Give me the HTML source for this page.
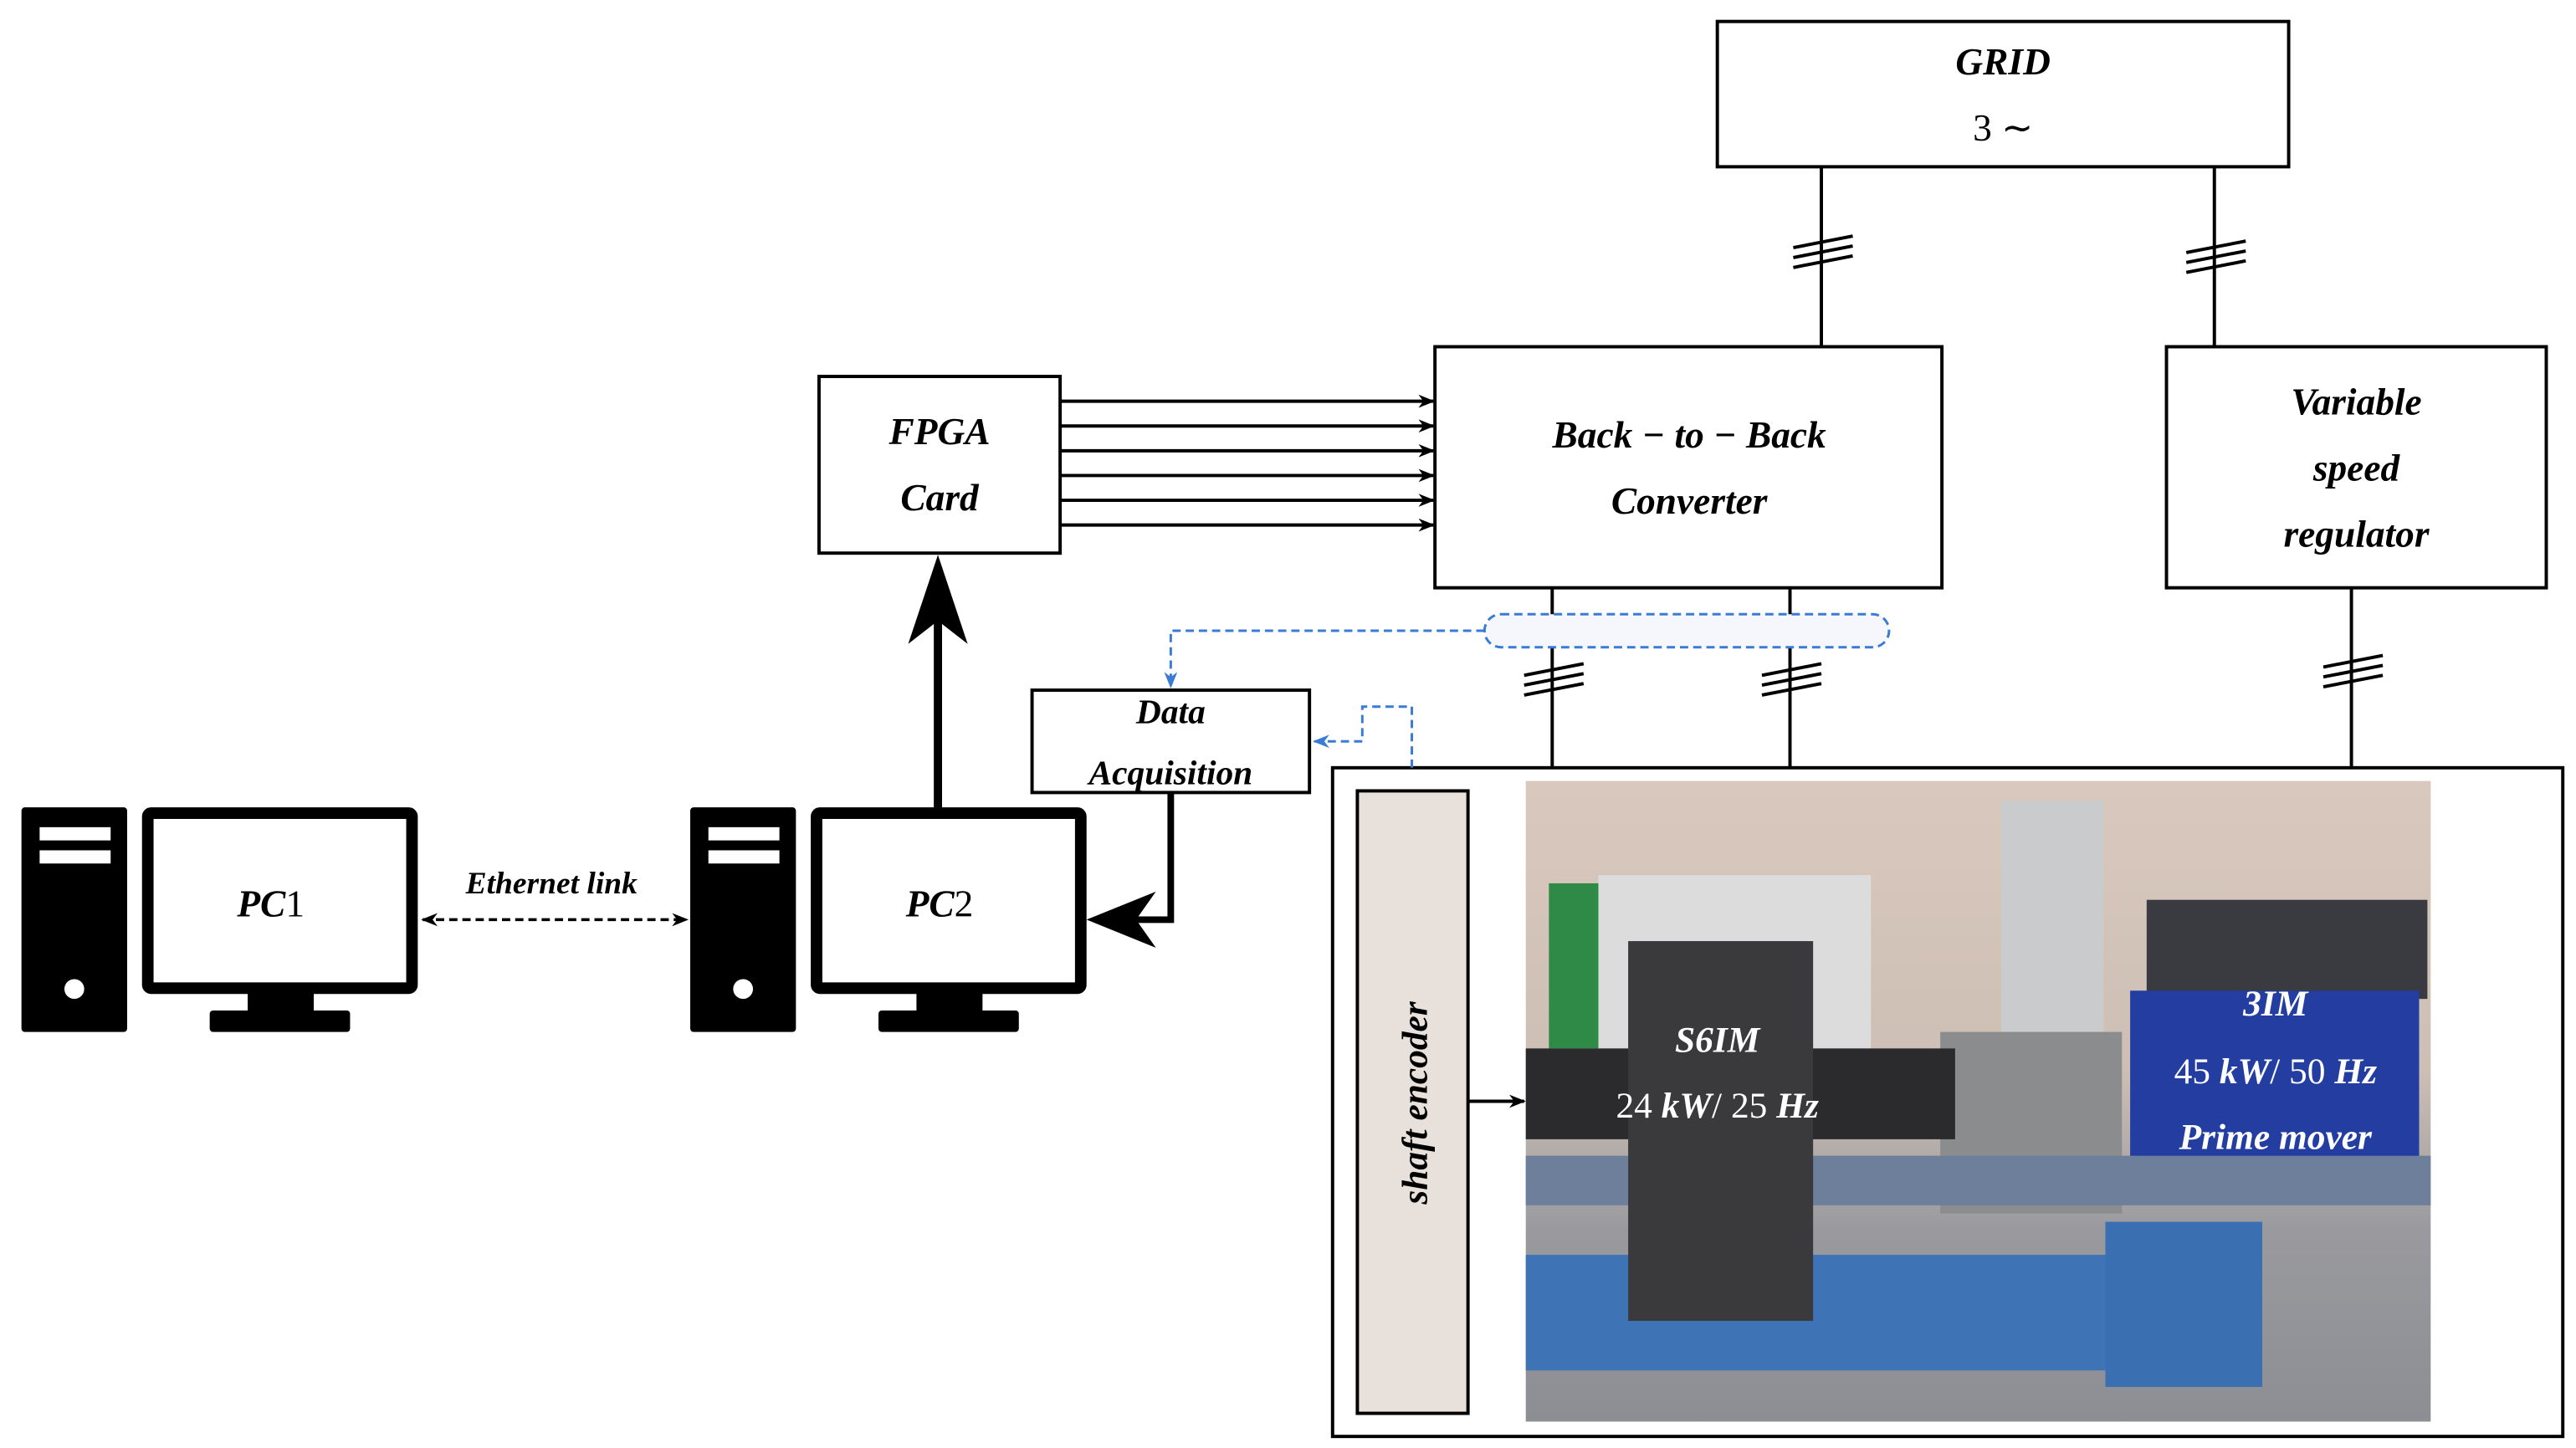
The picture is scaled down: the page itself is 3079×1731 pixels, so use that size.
<!DOCTYPE html>
<html><head><meta charset="utf-8"><style>
html,body{margin:0;padding:0;background:#fff;}
svg{display:block;}
text{font-family:"Liberation Serif",serif;}
.n{font-style:normal;font-weight:normal;}
</style></head><body>
<svg width="3079" height="1731" viewBox="0 0 1560 877" preserveAspectRatio="none" xmlns="http://www.w3.org/2000/svg">
<defs>
<marker id="a" markerWidth="10" markerHeight="8" refX="9" refY="4" orient="auto" markerUnits="userSpaceOnUse"><path d="M0,0 L10,4 L0,8 L3,4z" fill="#000"/></marker>
<marker id="b" markerWidth="10" markerHeight="8" refX="9" refY="4" orient="auto" markerUnits="userSpaceOnUse"><path d="M0,0 L10,4 L0,8 L3,4z" fill="#3a7bd5"/></marker>
<marker id="s" markerWidth="10" markerHeight="8" refX="1" refY="4" orient="auto" markerUnits="userSpaceOnUse"><path d="M10,0 L0,4 L10,8 L7,4z" fill="#000"/></marker>
<linearGradient id="wall" x1="0" y1="0" x2="0" y2="1"><stop offset="0" stop-color="#d9c8bd"/><stop offset="0.45" stop-color="#cdbfb5"/><stop offset="0.7" stop-color="#9a9a9e"/><stop offset="1" stop-color="#8c8e94"/></linearGradient>
</defs>
<g fill="none" stroke="#000" stroke-width="2">
<rect x="1040" y="13" width="346" height="88"/>
<rect x="869" y="210" width="307" height="146"/>
<rect x="1312" y="210" width="230" height="146"/>
<rect x="496" y="228" width="146" height="107"/>
<rect x="625" y="418" width="168" height="62"/>
<rect x="807" y="465" width="745" height="405"/>
<line x1="1103" y1="101" x2="1103" y2="210"/>
<line x1="1341" y1="101" x2="1341" y2="210"/>
<line x1="940" y1="356" x2="940" y2="465"/>
<line x1="1084" y1="356" x2="1084" y2="465"/>
<line x1="1424" y1="356" x2="1424" y2="465"/>
</g>
<g stroke="#000" stroke-width="2">
<path d="M1086,150 l36,-7 M1086,156 l36,-7 M1086,162 l36,-7"/>
<path d="M1324,153 l36,-7 M1324,159 l36,-7 M1324,165 l36,-7"/>
<path d="M923,409 l36,-7 M923,415 l36,-7 M923,421 l36,-7"/>
<path d="M1067,409 l36,-7 M1067,415 l36,-7 M1067,421 l36,-7"/>
<path d="M1407,404 l36,-7 M1407,410 l36,-7 M1407,416 l36,-7"/>
</g>
<g stroke="#000" stroke-width="2" marker-end="url(#a)">
<line x1="642" y1="243" x2="868" y2="243"/>
<line x1="642" y1="258" x2="868" y2="258"/>
<line x1="642" y1="273" x2="868" y2="273"/>
<line x1="642" y1="288" x2="868" y2="288"/>
<line x1="642" y1="303" x2="868" y2="303"/>
<line x1="642" y1="318" x2="868" y2="318"/>
<line x1="889" y1="667" x2="923" y2="667"/>
</g>
<rect x="899" y="372" width="245" height="20" rx="10" fill="#f5f7fc" stroke="#3a7bd5" stroke-width="1.5" stroke-dasharray="5,3"/>
<path d="M899,382 H709 V416" fill="none" stroke="#3a7bd5" stroke-width="1.5" stroke-dasharray="5,3" marker-end="url(#b)"/>
<path d="M855,465 V428 H825 V449 H796" fill="none" stroke="#3a7bd5" stroke-width="1.5" stroke-dasharray="5,3" marker-end="url(#b)"/>
<path d="M709,480 V557 H680" fill="none" stroke="#000" stroke-width="4"/>
<path d="M658,557 L700,540 L688,557 L700,574z" fill="#000"/>
<line x1="568" y1="490" x2="568" y2="370" stroke="#000" stroke-width="5"/>
<path d="M568,336 L586,390 L568,376 L550,390z" fill="#000"/>
<line x1="256" y1="557" x2="416" y2="557" stroke="#000" stroke-width="1.8" stroke-dasharray="5,3" marker-end="url(#a)" marker-start="url(#s)"/>
<g id="pc">
<rect x="13" y="489" width="64" height="136" rx="2" fill="#000"/>
<rect x="24" y="501" width="43" height="8" fill="#fff"/>
<rect x="24" y="515" width="43" height="8" fill="#fff"/>
<circle cx="45" cy="599" r="6" fill="#fff"/>
<rect x="89.5" y="492.5" width="160" height="106" fill="#fff" stroke="#000" stroke-width="7" rx="2"/>
<rect x="150" y="601" width="40" height="13" fill="#000"/>
<rect x="127" y="612" width="85" height="13" rx="2" fill="#000"/>
</g>
<use href="#pc" x="405"/>
<rect x="822" y="479" width="67" height="377" fill="#e8e0da" stroke="#000" stroke-width="2"/>
<text transform="translate(864,668) rotate(-90)" text-anchor="middle" font-size="22" font-style="italic" font-weight="bold">shaft encoder</text>
<rect x="924" y="473" width="548" height="388" fill="url(#wall)"/>
<rect x="1212" y="485" width="62" height="170" fill="#c9cbcc"/>
<rect x="938" y="535" width="30" height="100" fill="#2f8a47"/>
<rect x="968" y="530" width="165" height="110" fill="#dcdcdc"/>
<rect x="1300" y="545" width="170" height="60" fill="#3a3b40"/>
<rect x="1290" y="600" width="175" height="120" fill="#233ea0"/>
<rect x="1175" y="625" width="110" height="110" fill="#8a8c8e"/>
<rect x="924" y="635" width="260" height="55" fill="#2b2b2d"/>
<rect x="924" y="700" width="548" height="30" fill="#6d7f9a"/>
<rect x="924" y="760" width="400" height="70" fill="#3e74b5"/>
<rect x="1275" y="740" width="95" height="100" fill="#3a6fb2"/>
<rect x="986" y="570" width="112" height="230" fill="#3a3a3c"/>
<g fill="#fff" font-size="22" text-anchor="middle" font-style="italic" font-weight="bold">
<text x="1040" y="637">S6IM</text>
<text x="1040" y="677"><tspan class="n">24 </tspan>kW<tspan class="n">/ 25 </tspan>Hz</text>
<text x="1378" y="615">3IM</text>
<text x="1378" y="656"><tspan class="n">45 </tspan>kW<tspan class="n">/ 50 </tspan>Hz</text>
<text x="1378" y="696">Prime mover</text>
</g>
<g font-size="23" text-anchor="middle" fill="#000" font-style="italic" font-weight="bold">
<text x="1213" y="45">GRID</text>
<text x="1213" y="85" class="n">3 ∼</text>
<text x="1023" y="271">Back − to − Back</text>
<text x="1023" y="311">Converter</text>
<text x="1427" y="251">Variable</text>
<text x="1427" y="291">speed</text>
<text x="1427" y="331">regulator</text>
<text x="569" y="269">FPGA</text>
<text x="569" y="309">Card</text>
<text x="709" y="438" font-size="21">Data</text>
<text x="709" y="475" font-size="21">Acquisition</text>
<text x="164" y="555">PC<tspan class="n">1</tspan></text>
<text x="569" y="555">PC<tspan class="n">2</tspan></text>
<text x="334" y="541" font-size="19">Ethernet link</text>
</g>
</svg>
</body></html>
